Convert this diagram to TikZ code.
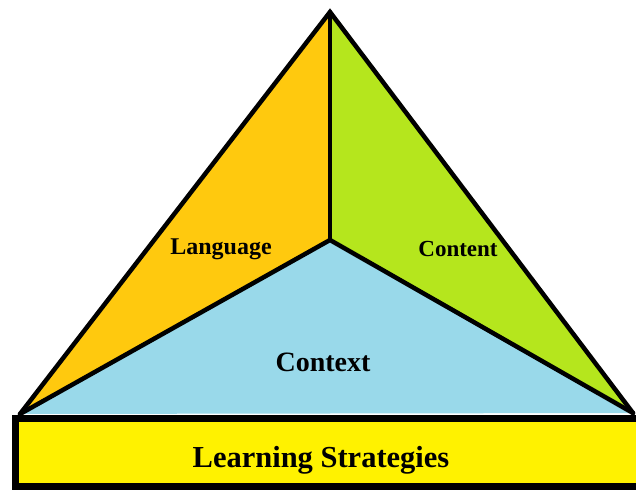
\documentclass[tikz,border=0pt]{standalone}
\usepackage{fontspec}
\setmainfont{Liberation Serif}
\definecolor{gold}{HTML}{FFC90E}
\definecolor{lime}{HTML}{B5E61D}
\definecolor{turq}{HTML}{99D9EA}
\definecolor{yel}{HTML}{FFF200}
\tikzset{
  edge/.style={line width=4.5pt, line join=miter, line cap=round},
  lbl/.style={font=\bfseries\fontsize{#1}{#1}\selectfont, text=black, inner sep=0pt, anchor=base}
}
\begin{document}
\begin{tikzpicture}[x=1pt,y=1pt]
\useasboundingbox (0,0) rectangle (636,491);
\fill[white] (0,0) rectangle (636,491);
\coordinate (A) at (330,479);
\coordinate (C) at (330,251);
\coordinate (L) at (20,77);
\coordinate (R) at (633,78);
\fill[gold] (A) -- (C) -- (L) -- cycle;
\fill[lime] (A) -- (R) -- (C) -- cycle;
\fill[turq] (C) -- (R) -- (L) -- cycle;
\draw[edge] (L) -- (A) -- (R);
\draw[edge] (A) -- (C);
\draw[edge] (L) -- (C) -- (R);
\draw[line width=7pt, fill=yel] (15.5,4.5) rectangle (650,72.5);
\node[lbl=24] (lang) at (221,236.7) {Language};
\node[lbl=23] (cont) at (458,234.3) {Content};
\node[lbl=28] (ctx) at (323,120) {Context};
\node[lbl=30.5] (ls) at (321,24) {Learning Strategies};
\end{tikzpicture}
\end{document}
